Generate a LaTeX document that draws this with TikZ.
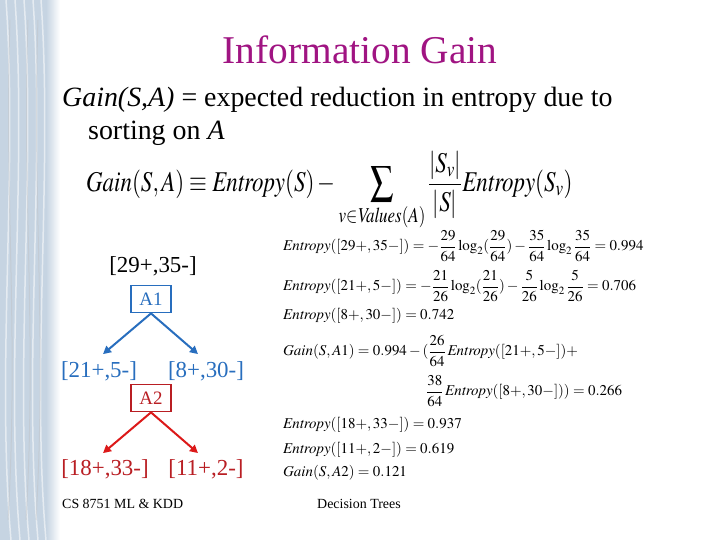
\documentclass[tikz,border=0pt]{standalone}
\usepackage{mathptmx}
\usepackage{fontspec}
\setmainfont{Liberation Serif}
\usetikzlibrary{arrows.meta,positioning}
\definecolor{titlepurple}{RGB}{160,20,130}
\definecolor{treeblue}{RGB}{40,110,190}
\definecolor{treered}{RGB}{185,30,35}
\definecolor{arrowred}{RGB}{220,25,25}
\definecolor{stripblue}{RGB}{198,212,226}

\begin{document}
\begin{tikzpicture}[
    x=1bp, y=-1bp,
    label/.style={inner sep=0, font=\fontsize{23}{27}\selectfont},
    attr/.style={draw, line width=1.8bp, minimum width=40bp, minimum height=27bp, inner sep=0, font=\fontsize{19}{22}\selectfont},
    eqn/.style={anchor=west, inner sep=0, font=\fontsize{15}{18}\selectfont},
    foot/.style={anchor=base west, inner sep=0, font=\fontsize{14}{16}\selectfont},
    arrow/.style={-{Triangle[length=8bp,width=8bp]}, line width=2bp}
]
    \fill[white] (0,0) rectangle (720,540);
    \useasboundingbox (0,0) rectangle (720,540);

    % textured strip on the left
    \fill[stripblue] (0,0) rectangle (46,540);
    \shade[left color=stripblue, right color=white] (46,0) rectangle (60,540);
    \foreach \x in {6,15,24,33,41} {
        \draw[white, opacity=0.55, line width=1.5bp] (\x,0) .. controls (\x+12,170) and (\x-10,370) .. (\x+5,540);
    }
    \foreach \x in {10,28,38} {
        \draw[black!25, opacity=0.4, line width=1bp] (\x,20) .. controls (\x-6,200) and (\x+9,330) .. (\x-2,520);
    }

    % title and definition
    \node[anchor=base, inner sep=0, text=titlepurple, font=\fontsize{39.5}{44}\selectfont] (title) at (360,64) {Information Gain};
    \node[anchor=base west, inner sep=0, font=\fontsize{28}{33}\selectfont] (def) at (62,107) {\textit{Gain(S,A)} = expected reduction in entropy due to};
    \node[anchor=base west, inner sep=0, font=\fontsize{28}{33}\selectfont] (sorting) at (88,140) {sorting on \textit{A}};
    \node[anchor=west, inner sep=0, font=\fontsize{23}{27}\selectfont] (formula) at (86,191)
        {\scalebox{1}[1.25]{$\displaystyle \mathit{Gain}(S,A) \equiv \mathit{Entropy}(S) - \sum_{v\in \mathit{Values}(A)} \frac{|S_v|}{|S|}\mathit{Entropy}(S_v)$}};

    % tree
    \node[label] (root) at (153,266) {[29+,35-]};
    \node[attr, draw=treeblue, text=treeblue] (a1) at (151,299) {A1};
    \node[label, text=treeblue] (n21) at (99,371) {[21+,5-]};
    \node[label, text=treeblue] (n8) at (206,371) {[8+,30-]};
    \node[attr, draw=treered, text=treered] (a2) at (151,398) {A2};
    \node[label, text=treered] (n18) at (105,469) {[18+,33-]};
    \node[label, text=treered] (n11) at (206,469) {[11+,2-]};

    \draw[arrow, treeblue] (a1.south) -- ([xshift=4bp,yshift=7bp]n21.north);
    \draw[arrow, treeblue] (a1.south) -- ([xshift=-8bp,yshift=7bp]n8.north);
    \draw[arrow, arrowred] (a2.south) -- ([xshift=-2bp,yshift=6bp]n18.north);
    \draw[arrow, arrowred] (a2.south) -- ([xshift=-8bp,yshift=6bp]n11.north);

    % worked values
    \node[eqn] (e29) at (283,246) {$\displaystyle \mathit{Entropy}([29{+},35{-}]) = -\frac{29}{64}\log_2(\frac{29}{64}) - \frac{35}{64}\log_2\frac{35}{64} = 0.994$};
    \node[eqn] (e21) at (283,286) {$\displaystyle \mathit{Entropy}([21{+},5{-}]) = -\frac{21}{26}\log_2(\frac{21}{26}) - \frac{5}{26}\log_2\frac{5}{26} = 0.706$};
    \node[eqn] (e8) at (283,316) {$\mathit{Entropy}([8{+},30{-}]) = 0.742$};
    \node[eqn] (g1) at (283,351) {$\displaystyle \mathit{Gain}(S,A1) = 0.994 - (\frac{26}{64}\,\mathit{Entropy}([21{+},5{-}]) +$};
    \node[eqn] (g1b) at (426,391) {$\displaystyle \frac{38}{64}\,\mathit{Entropy}([8{+},30{-}])) = 0.266$};
    \node[eqn] (e18) at (283,425) {$\mathit{Entropy}([18{+},33{-}]) = 0.937$};
    \node[eqn] (e11) at (283,450) {$\mathit{Entropy}([11{+},2{-}]) = 0.619$};
    \node[eqn] (g2) at (283,473) {$\mathit{Gain}(S,A2) = 0.121$};

    % footer
    \node[foot] (course) at (62,508) {CS 8751 ML \& KDD};
    \node[foot] (topic) at (317,508) {Decision Trees};
\end{tikzpicture}
\end{document}
